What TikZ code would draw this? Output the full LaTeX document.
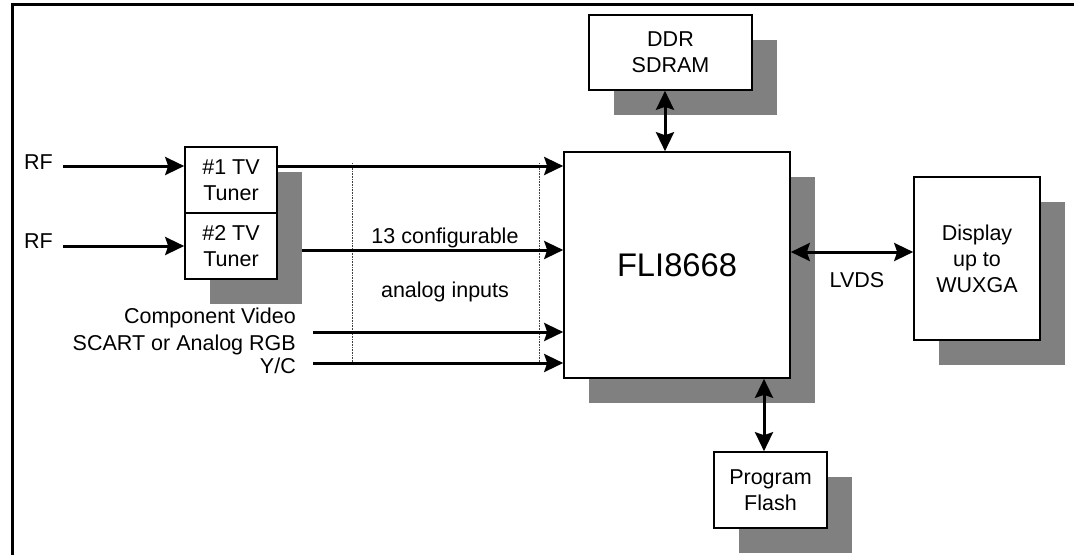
\documentclass[tikz,border=0pt]{standalone}
\usepackage{fontspec}
\setmainfont{Liberation Sans}
\usetikzlibrary{arrows.meta,calc}
\definecolor{shadowgray}{HTML}{808080}
\begin{document}
\begin{tikzpicture}[x=1pt,y=-1pt,
  box/.style={draw, line width=1.6pt, fill=white, inner sep=0pt, align=center,
    font=\fontsize{21.5}{26}\selectfont},
  shadowbox/.style={fill=shadowgray, draw=none},
  arr/.style={line width=3pt, -{Stealth[length=19pt,width=18pt,inset=3pt]}},
  darr/.style={line width=3pt, {Stealth[length=19pt,width=18pt,inset=3pt]}-{Stealth[length=19pt,width=18pt,inset=3pt]}},
  lbl/.style={inner sep=0pt, font=\fontsize{21.5}{26}\selectfont},
  guide/.style={line width=0.8pt, black!75, dash pattern=on 1pt off 0.6pt}
]
\useasboundingbox (0,0) rectangle (1074,555);
% frame
\draw[line width=3pt] (12.5,555) -- (12.5,4.5) -- (1074,4.5);

% shadows
\fill[shadowgray] (210,172) rectangle (302,304);
\fill[shadowgray] (614,40) rectangle (777,115);
\fill[shadowgray] (589,177) rectangle (815,403);
\fill[shadowgray] (939,202) rectangle (1065,365);
\fill[shadowgray] (739,477) rectangle (852,553);

% boxes
\node[box, minimum width=92pt, minimum height=66pt] (tun1) at (231,180) {\#1 TV\\Tuner};
\node[box, minimum width=92pt, minimum height=66pt] (tun2) at (231,246) {\#2 TV\\Tuner};
\node[box, minimum width=163pt, minimum height=75pt] (ddr) at (670.5,52.5) {DDR\\SDRAM};
\node[box, minimum width=226pt, minimum height=226pt, font=\fontsize{32.7}{38}\selectfont] (fli) at (677,265) {FLI8668};
\node[box, minimum width=126pt, minimum height=163pt] (disp) at (977,258.5) {Display\\up to\\WUXGA};
\node[box, minimum width=113pt, minimum height=76pt] (flash) at (770.5,490) {Program\\Flash};

% guide lines
\draw[guide] (352,163) -- (352,362);
\draw[guide] (539,163) -- (539,362);

% start coordinates
\coordinate (rf1s) at (63,166);
\coordinate (rf2s) at (63,246);
\coordinate (t2o) at (302,250);
\coordinate (cvs) at (313,332);
\coordinate (ycs) at (313,363);
\coordinate (ddrx) at (665,0);
\coordinate (lv) at (850,252);
\coordinate (fx) at (764,0);

% connectors
\draw[arr] (rf1s) -- (rf1s -| tun1.west);
\draw[arr] (rf2s) -- (tun2.west);
\draw[arr] (rf1s -| tun1.east) -- (rf1s -| fli.west);
\draw[arr] (t2o) -- (t2o -| fli.west);
\draw[arr] (cvs) -- (cvs -| fli.west);
\draw[arr] (ycs) -- (ycs -| fli.west);
\draw[darr] (ddr.south -| ddrx) -- (fli.north -| ddrx);
\draw[darr] (fli.east |- lv) -- (disp.west |- lv);
\draw[darr] (fli.south -| fx) -- (flash.north -| fx);

% labels
\node[lbl, anchor=base east] (rf1) at (53,169) {RF};
\node[lbl, anchor=base east] (rf2) at (53,248) {RF};
\node[lbl, anchor=base] (cfg) at (445,243) {13 configurable};
\node[lbl, anchor=base] (ana) at (445,297) {analog inputs};
\node[lbl, anchor=base east] (cv) at (296,323) {Component Video};
\node[lbl, anchor=base east] (sc) at (296,350) {SCART or Analog RGB};
\node[lbl, anchor=base east] (yc) at (296,373) {Y/C};
\node[lbl, anchor=base] (lvds) at (857,287) {LVDS};
\end{tikzpicture}
\end{document}
